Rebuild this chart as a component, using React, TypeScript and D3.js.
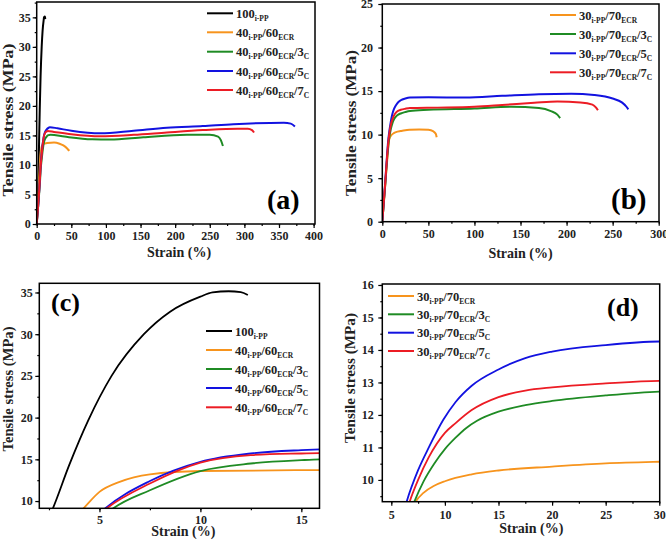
import React, { useRef, useEffect } from "react";
import * as d3 from "d3";

type Pt = [number, number];

// strain (%), tensile stress (MPa) — 40 i-PP / 60 ECR family (panels a and c)
const pp100: Pt[] = [
  [0, 0], [1, 2.5], [2, 5.5], [2.69, 9.1], [3.5, 14.3], [4.45, 19.7], [5.6, 25],
  [7.2, 30], [8.5, 32.7], [10, 34.5], [10.6, 35], [11.4, 35.15], [12, 35.05], [12.35, 34.7],
];
const pp40ecr60: Pt[] = [
  [0, 0], [2, 3.8], [3, 6.3], [4.2, 9.1], [5, 11.1], [6, 12.3], [7.5, 13.2], [10, 13.6],
  [15, 13.7], [25, 13.8], [33, 13.6], [38.5, 13.3], [44, 12.8], [47, 12.4],
];
const pp40ecr60c3: Pt[] = [
  [0, 0], [3, 4.3], [4.8, 7.3], [5.67, 9.1], [7.5, 11.3], [10, 13.6], [12.5, 14.5], [15, 14.9],
  [16, 15.0], [20, 15.1], [40, 14.8], [80, 14.35], [106, 14.3], [154, 14.7], [217, 15.1],
  [250, 15.1], [262, 14.8], [266, 14.2], [269, 13.2],
];
const pp40ecr60c5: Pt[] = [
  [0, 0], [3, 4.5], [4.5, 7.3], [5.28, 9.1], [7.5, 12.4], [10, 14.7], [12.5, 15.7], [15, 16.1],
  [16, 16.2], [19, 16.4], [30, 16.2], [50, 15.8], [92, 15.35], [140, 15.8], [188, 16.3],
  [240, 16.6], [284, 16.9], [357, 17.15], [367, 17.0], [373, 16.5],
];
const pp40ecr60c7: Pt[] = [
  [0, 0], [3, 4.5], [4.5, 7.3], [5.35, 9.1], [7.5, 12.1], [10, 14.6], [12.5, 15.5], [15, 15.7],
  [16, 15.75], [25, 15.6], [50, 15.2], [92, 14.85], [140, 15.1], [188, 15.5], [240, 15.9],
  [290, 16.15], [305, 16.15], [311, 15.9], [314, 15.5],
];

// 30 i-PP / 70 ECR family (panels b and d)
const pp30ecr70: Pt[] = [
  [0, 0], [3, 4], [5.5, 7.3], [7.27, 9.33], [8, 9.6], [9, 9.82], [10, 9.96], [12.5, 10.17],
  [15, 10.29], [20, 10.41], [25, 10.51], [30, 10.56], [40, 10.6], [50, 10.55], [55, 10.4],
  [58, 10.1], [59, 9.7],
];
const pp30ecr70c3: Pt[] = [
  [0, 0], [3, 4], [5.5, 7.6], [7.15, 9.33], [8, 9.95], [9, 10.5], [10, 10.95], [11, 11.3],
  [12, 11.6], [13, 11.82], [15, 12.1], [17.5, 12.3], [20, 12.43], [25, 12.6], [30, 12.72],
  [50, 12.85], [100, 13.0], [140, 13.2], [170, 13.05], [183, 12.7], [190, 12.3], [193, 11.9],
];
const pp30ecr70c5: Pt[] = [
  [0, 0], [3, 4.3], [5, 7.4], [6.43, 9.33], [7.5, 10.3], [8.5, 11.0], [9.85, 11.85],
  [11, 12.4], [12.5, 12.9], [15, 13.4], [17.5, 13.75], [20, 13.95], [25, 14.15], [30, 14.26],
  [50, 14.3], [90, 14.25], [130, 14.45], [170, 14.65], [205, 14.7], [230, 14.55], [250, 14.15],
  [260, 13.7], [265, 13.2], [267, 12.9],
];
const pp30ecr70c7: Pt[] = [
  [0, 0], [3, 4.2], [5.2, 7.5], [6.71, 9.33], [7.5, 10.0], [8.5, 10.7], [10, 11.45],
  [11, 11.75], [12.5, 12.15], [15, 12.55], [17.5, 12.75], [20, 12.85], [25, 12.97], [30, 13.05],
  [60, 13.1], [100, 13.2], [130, 13.4], [165, 13.65], [190, 13.8], [215, 13.7], [228, 13.45],
  [232, 13.1], [234, 12.8],
];

type Seg = [string, boolean]; // text, subscript?
const labels40: Seg[][] = [
  [["100", false], ["i-PP", true]],
  [["40", false], ["i-PP", true], ["/60", false], ["ECR", true]],
  [["40", false], ["i-PP", true], ["/60", false], ["ECR", true], ["/3", false], ["C", true]],
  [["40", false], ["i-PP", true], ["/60", false], ["ECR", true], ["/5", false], ["C", true]],
  [["40", false], ["i-PP", true], ["/60", false], ["ECR", true], ["/7", false], ["C", true]],
];
const labels30: Seg[][] = [
  [["30", false], ["i-PP", true], ["/70", false], ["ECR", true]],
  [["30", false], ["i-PP", true], ["/70", false], ["ECR", true], ["/3", false], ["C", true]],
  [["30", false], ["i-PP", true], ["/70", false], ["ECR", true], ["/5", false], ["C", true]],
  [["30", false], ["i-PP", true], ["/70", false], ["ECR", true], ["/7", false], ["C", true]],
];
const series40 = [pp100, pp40ecr60, pp40ecr60c3, pp40ecr60c5, pp40ecr60c7];
const series30 = [pp30ecr70, pp30ecr70c3, pp30ecr70c5, pp30ecr70c7];
const colors40 = ["#000000", "#f7941d", "#1f8b24", "#1212e0", "#ec1c24"];
const colors30 = ["#f7941d", "#1f8b24", "#1212e0", "#ec1c24"];

const ticksA = { x: [0, 50, 100, 150, 200, 250, 300, 350, 400], y: [0, 5, 10, 15, 20, 25, 30, 35] };
const ticksB = { x: [0, 50, 100, 150, 200, 250, 300], y: [0, 5, 10, 15, 20, 25] };
const ticksC = { x: [5, 10, 15], y: [10, 15, 20, 25, 30, 35] };
const ticksD = { x: [5, 10, 15, 20, 25, 30], y: [10, 11, 12, 13, 14, 15, 16] };

const FONT = "'Liberation Serif', 'Times New Roman', serif";

type Cfg = {
  id: string; tag: string;
  xDomain: [number, number]; yDomain: [number, number];
  left: number; right: number; top: number; bottom: number;
  xTicks: number[]; yTicks: number[]; xMinorStep: number; yMinorStep: number;
  xPad: number; yPad: number;
  series: Pt[][]; colors: string[]; labels: Seg[][];
  legendX: number; legendRows: number[];
  tagX: number; tagY: number; tagSize: number;
  yTitle: { x: number; y: number; len: number };
  xTitle: { x: number; y: number };
  lw: number;
};

function minor(domain: [number, number], step: number) {
  const out: number[] = [];
  const start = Math.ceil(domain[0] / step) * step;
  for (let v = start; v <= domain[1] + 1e-9; v += step) out.push(+v.toFixed(6));
  return out;
}

function drawPanel(svg: d3.Selection<SVGSVGElement, unknown, null, undefined>, c: Cfg) {
  const x = d3.scaleLinear().domain(c.xDomain).range([c.left, c.right]);
  const y = d3.scaleLinear().domain(c.yDomain).range([c.bottom, c.top]);
  const g = svg.append("g");

  g.append("clipPath").attr("id", "clip-" + c.id)
    .append("rect").attr("x", c.left).attr("y", c.top)
    .attr("width", c.right - c.left).attr("height", c.bottom - c.top);

  const line = d3.line<Pt>().x((d) => x(d[0])).y((d) => y(d[1])).curve(d3.curveMonotoneX);
  const plot = g.append("g").attr("clip-path", `url(#clip-${c.id})`);
  c.series.forEach((s, i) => {
    plot.append("path").attr("d", line(s)).attr("fill", "none")
      .attr("stroke", c.colors[i]).attr("stroke-width", c.lw).attr("stroke-linejoin", "round");
  });

  // axes
  const xAxis = g.append("g").attr("transform", `translate(0,${c.bottom})`)
    .call(d3.axisBottom(x).tickValues(c.xTicks).tickSize(4).tickPadding(c.xPad).tickFormat(d3.format("d")));
  g.append("g").attr("transform", `translate(0,${c.bottom})`)
    .call(d3.axisBottom(x).tickValues(minor(c.xDomain, c.xMinorStep)).tickSize(2).tickFormat(() => ""));
  const yAxis = g.append("g").attr("transform", `translate(${c.left},0)`)
    .call(d3.axisLeft(y).tickValues(c.yTicks).tickSize(4).tickPadding(c.yPad).tickFormat(d3.format("d")));
  g.append("g").attr("transform", `translate(${c.left},0)`)
    .call(d3.axisLeft(y).tickValues(minor(c.yDomain, c.yMinorStep)).tickSize(2).tickFormat(() => ""));
  g.selectAll(".domain").remove();
  g.selectAll(".tick line").attr("stroke", "#000").attr("stroke-width", 1.2);
  [xAxis, yAxis].forEach((a) =>
    a.selectAll("text").attr("font-family", FONT).attr("font-weight", "bold")
      .attr("font-size", 12).attr("fill", "#222")
  );

  g.append("rect").attr("x", c.left).attr("y", c.top)
    .attr("width", c.right - c.left).attr("height", c.bottom - c.top)
    .attr("fill", "none").attr("stroke", "#000").attr("stroke-width", 1.5);

  // titles
  g.append("text").attr("transform", `translate(${c.yTitle.x},${c.yTitle.y}) rotate(-90)`)
    .attr("text-anchor", "middle").attr("font-family", FONT).attr("font-weight", "bold")
    .attr("font-size", 14.5).attr("textLength", c.yTitle.len).attr("lengthAdjust", "spacingAndGlyphs")
    .attr("fill", "#222").text("Tensile stress (MPa)");
  g.append("text").attr("x", c.xTitle.x).attr("y", c.xTitle.y)
    .attr("text-anchor", "middle").attr("font-family", FONT).attr("font-weight", "bold")
    .attr("font-size", 14).attr("fill", "#222").text("Strain (%)");

  // panel tag
  g.append("text").attr("x", c.tagX).attr("y", c.tagY).attr("font-family", FONT)
    .attr("font-weight", "bold").attr("font-size", c.tagSize).attr("fill", "#000").text(c.tag);

  // legend
  c.labels.forEach((lab, i) => {
    const ly = c.legendRows[i];
    g.append("line").attr("x1", c.legendX).attr("x2", c.legendX + 26)
      .attr("y1", ly).attr("y2", ly).attr("stroke", c.colors[i]).attr("stroke-width", 2);
    const t = g.append("text").attr("x", c.legendX + 29).attr("y", ly + 4.5)
      .attr("font-family", FONT).attr("font-weight", "bold").attr("fill", "#222");
    let sub = false;
    lab.forEach(([s, isSub]) => {
      const dy = isSub && !sub ? 3 : !isSub && sub ? -3 : 0;
      t.append("tspan").attr("dy", dy).attr("font-size", isSub ? 7.5 : 12.5).text(s);
      sub = isSub;
    });
  });
}

const panels: Cfg[] = [
  {
    id: "a", tag: "(a)", xDomain: [0, 402], yDomain: [0, 37.6],
    left: 36.7, right: 315, top: 2, bottom: 224,
    xTicks: ticksA.x, yTicks: ticksA.y, xMinorStep: 25, yMinorStep: 2.5, xPad: 3.5, yPad: 2,
    series: series40, colors: colors40, labels: labels40,
    legendX: 207, legendRows: [13.3, 32.3, 51.7, 71, 90],
    tagX: 267, tagY: 209, tagSize: 28,
    yTitle: { x: 12.5, y: 120, len: 153 }, xTitle: { x: 179, y: 256.5 }, lw: 2,
  },
  {
    id: "b", tag: "(b)", xDomain: [0, 300.3], yDomain: [0, 25],
    left: 382.3, right: 659, top: 4, bottom: 221.7,
    xTicks: ticksB.x, yTicks: ticksB.y, xMinorStep: 25, yMinorStep: 2.5, xPad: 3.3, yPad: 5.3,
    series: series30, colors: colors30, labels: labels30,
    legendX: 550, legendRows: [15, 34, 53.3, 72.3],
    tagX: 611, tagY: 209, tagSize: 29,
    yTitle: { x: 355.5, y: 123, len: 146 }, xTitle: { x: 520.5, y: 258 }, lw: 2,
  },
  {
    id: "c", tag: "(c)", xDomain: [2.02, 15.9], yDomain: [9.13, 36.1],
    left: 39.3, right: 319.5, top: 283.3, bottom: 508.3,
    xTicks: ticksC.x, yTicks: ticksC.y, xMinorStep: 2.5, yMinorStep: 2.5, xPad: 3.5, yPad: 2.6,
    series: series40, colors: colors40, labels: labels40,
    legendX: 206, legendRows: [331, 350, 369, 388, 407.3],
    tagX: 51, tagY: 311, tagSize: 26,
    yTitle: { x: 12.5, y: 389, len: 125 }, xTitle: { x: 183.3, y: 536 }, lw: 1.8,
  },
  {
    id: "d", tag: "(d)", xDomain: [4.16, 30.04], yDomain: [9.33, 16.03],
    left: 382.3, right: 659.7, top: 284, bottom: 501.7,
    xTicks: ticksD.x, yTicks: ticksD.y, xMinorStep: 2.5, yMinorStep: 0.5, xPad: 5, yPad: 4.6,
    series: series30, colors: colors30, labels: labels30,
    legendX: 388, legendRows: [296, 314.3, 332.7, 351],
    tagX: 607, tagY: 316, tagSize: 26,
    yTitle: { x: 354.5, y: 378, len: 130 }, xTitle: { x: 531.3, y: 533 }, lw: 1.8,
  },
];

export default function App() {
  const ref = useRef<SVGSVGElement>(null);

  useEffect(() => {
    if (!ref.current) return;
    const svg = d3.select(ref.current);
    svg.selectAll("*").remove();
    panels.forEach((p) => drawPanel(svg, p));
  }, []);

  return (
    <svg
      ref={ref}
      width={666}
      height={541}
      style={{ position: "absolute", left: 0, top: 0, background: "#fff" }}
    />
  );
}
